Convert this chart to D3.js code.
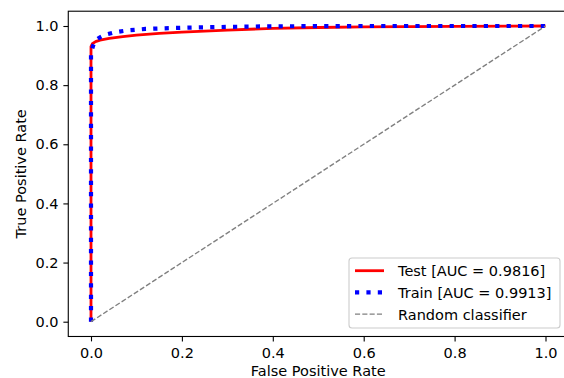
<html>
<head>
  <script src="https://d3js.org/d3.v7.min.js"></script>
  <style>
    body { margin: 0; background: #fff; }
    text { font-family: "DejaVu Sans", sans-serif; fill: #000; }
  </style>
</head>
<body>
  <svg id="roc" width="564" height="378"></svg>
  <script>
    // ROC data
    const testFpr = [0, 0, 0.003, 0.01, 0.02, 0.04, 0.07, 0.1, 0.15, 0.2, 0.3, 0.4, 0.5, 0.6, 0.8, 1.0];
    const testTpr = [0, 0.93, 0.94, 0.947, 0.952, 0.958, 0.964, 0.969, 0.975, 0.979, 0.986, 0.992, 0.995, 0.997, 0.999, 1.0];
    const trainFpr = [0, 0, 0.005, 0.01, 0.02, 0.03, 0.05, 0.08, 0.12, 0.2, 0.3, 0.4, 0.6, 1.0];
    const trainTpr = [0, 0.91, 0.935, 0.952, 0.962, 0.97, 0.978, 0.985, 0.99, 0.994, 0.997, 0.999, 1.0, 1.0];
    const randomFpr = [0, 1];
    const randomTpr = [0, 1];
    const ticks = [0, 0.2, 0.4, 0.6, 0.8, 1.0];
    const legendLabels = ["Test [AUC = 0.9816]", "Train [AUC = 0.9913]", "Random classifier"];

    const fontSize = "14.5px";
    const svg = d3.select("svg#roc");
    const x = d3.scaleLinear().domain([0, 1]).range([91, 545.5]);
    const y = d3.scaleLinear().domain([0, 1]).range([321.7, 26]);
    const axLeft = x(-0.05), axRight = x(1.05), axTop = y(1.05), axBottom = y(-0.05);

    // axes
    const xAxis = d3.axisBottom(x).tickValues(ticks).tickFormat(d3.format(".1f")).tickSize(4.9).tickPadding(6.5);
    const yAxis = d3.axisLeft(y).tickValues(ticks).tickFormat(d3.format(".1f")).tickSize(4.9).tickPadding(4.9);

    const gx = svg.append("g").attr("transform", "translate(0," + axBottom + ")").call(xAxis);
    const gy = svg.append("g").attr("transform", "translate(" + axLeft + ",0)").call(yAxis);
    [gx, gy].forEach(g => {
      g.select(".domain").remove();
      g.selectAll(".tick line").attr("stroke", "#000").attr("stroke-width", 1.1);
      g.selectAll(".tick text").style("font-size", fontSize).attr("fill", "#000");
    });

    // lines
    const line = d3.line().x(d => x(d[0])).y(d => y(d[1]));
    const plot = svg.append("g");
    plot.append("path")
      .datum(d3.zip(testFpr, testTpr))
      .attr("d", line).attr("fill", "none")
      .attr("stroke", "red").attr("stroke-width", 2.8).attr("stroke-linejoin", "round");
    plot.append("path")
      .datum(d3.zip(trainFpr, trainTpr))
      .attr("d", line).attr("fill", "none")
      .attr("stroke", "blue").attr("stroke-width", 4.2).attr("stroke-dasharray", "4.2,7.2");
    plot.append("path")
      .datum(d3.zip(randomFpr, randomTpr))
      .attr("d", line).attr("fill", "none")
      .attr("stroke", "gray").attr("stroke-width", 1.4).attr("stroke-dasharray", "5.1,2.2");

    // frame
    svg.append("rect")
      .attr("x", axLeft).attr("y", axTop)
      .attr("width", axRight - axLeft).attr("height", axBottom - axTop)
      .attr("fill", "none").attr("stroke", "#000").attr("stroke-width", 1.1);

    // axis labels
    svg.append("text")
      .attr("x", (axLeft + axRight) / 2).attr("y", 376)
      .attr("text-anchor", "middle").style("font-size", fontSize)
      .text("False Positive Rate");
    svg.append("text")
      .attr("transform", "translate(25.5," + (axTop + axBottom) / 2 + ") rotate(-90)")
      .attr("text-anchor", "middle").style("font-size", fontSize)
      .text("True Positive Rate");

    // legend
    const legend = svg.append("g");
    legend.append("rect")
      .attr("x", 349).attr("y", 258).attr("width", 211).attr("height", 70)
      .attr("rx", 3).attr("fill", "#fff").attr("fill-opacity", 0.8)
      .attr("stroke", "#ccc").attr("stroke-width", 1.1);
    const styles = [
      { color: "red", width: 2.8, dash: null },
      { color: "blue", width: 4.2, dash: "4.2,7.2" },
      { color: "gray", width: 1.4, dash: "5.1,2.2" }
    ];
    legendLabels.forEach((label, i) => {
      const cy = 270.7 + i * 21.7;
      legend.append("line")
        .attr("x1", 355).attr("x2", 384).attr("y1", cy).attr("y2", cy)
        .attr("stroke", styles[i].color).attr("stroke-width", styles[i].width)
        .attr("stroke-dasharray", styles[i].dash);
      legend.append("text")
        .attr("x", 398).attr("y", cy + 5.5)
        .style("font-size", fontSize)
        .text(label);
    });
  </script>
</body>
</html>
